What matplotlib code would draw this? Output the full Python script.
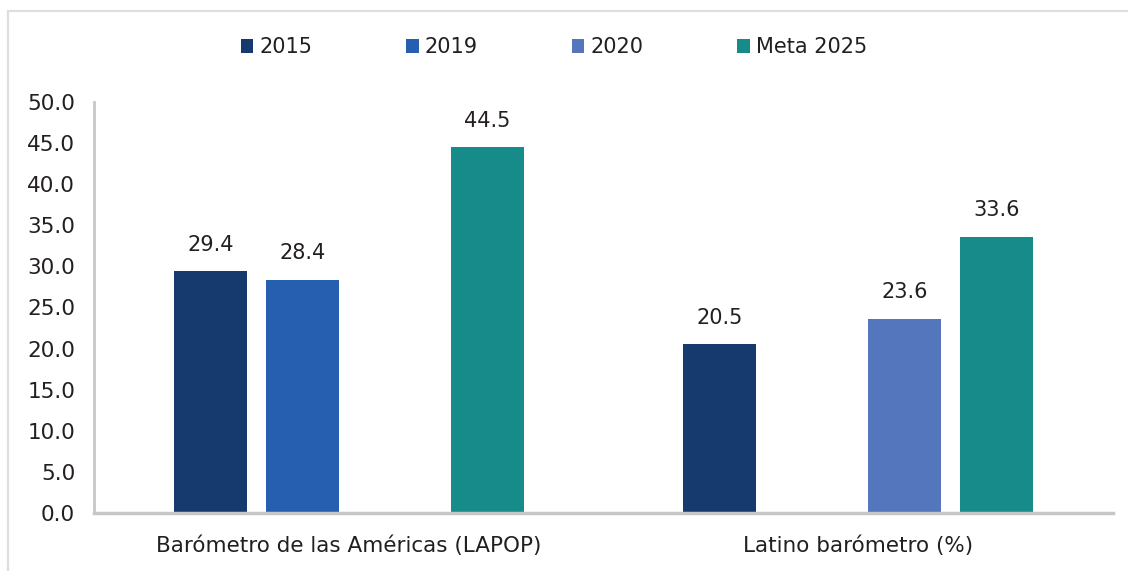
import matplotlib
matplotlib.use("Agg")
import matplotlib.pyplot as plt
from matplotlib.patches import Rectangle, Patch
import numpy as np

plt.rcParams['font.family'] = ['DejaVu Sans']

# Data
categories = ['Barómetro de las Américas (LAPOP)', 'Latino barómetro (%)']
series = ['2015', '2019', '2020', 'Meta 2025']
values = {
    '2015': [29.4, 20.5],
    '2019': [28.4, None],
    '2020': [None, 23.6],
    'Meta 2025': [44.5, 33.6],
}
colors = ['#163a6e', '#265fb0', '#5476bc', '#178a8a']
yticks = [0, 5, 10, 15, 20, 25, 30, 35, 40, 45, 50]

W, H = 1128, 571
fig = plt.figure(figsize=(W / 100, H / 100), dpi=100)
ax = fig.add_axes([94 / W, 1 - 513 / H, (1113 - 94) / W, (513 - 102) / H])

# light frame round the chart (right and bottom edges fall outside the picture)
fig.patches.append(Rectangle((8 / W, -0.1), 1.2, 1 - 11 / H + 0.1, transform=fig.transFigure,
                             fill=False, edgecolor='#dedede', linewidth=1.6))

x = np.arange(len(categories))
step = 0.181
width = 0.143
text_col = '#231f20'

for i, (name, col) in enumerate(zip(series, colors)):
    offs = (i - 1.5) * step
    for j, v in enumerate(values[name]):
        if v is None:
            continue
        ax.bar(x[j] + offs, v, width=width, color=col, zorder=2)
        ax.annotate(f'{v:.1f}', (x[j] + offs, v), xytext=(0, 12), textcoords='offset points',
                    ha='center', va='bottom', fontsize=15, color=text_col)

ax.set_xlim(-0.5, 1.5)
ax.set_ylim(0, 50)
ax.set_yticks(yticks)
ax.set_yticklabels([f'{t:.1f}' for t in yticks])
ax.set_xticks(x)
ax.set_xticklabels(categories)
ax.tick_params(axis='both', length=0, labelsize=15.5, labelcolor=text_col)
ax.tick_params(axis='y', pad=13.5)
ax.tick_params(axis='x', pad=16.5)

for s in ['top', 'right']:
    ax.spines[s].set_visible(False)
ax.spines['left'].set_color('#c8c8c8')
ax.spines['left'].set_linewidth(2)
ax.spines['bottom'].set_color('#c6c6c6')
ax.spines['bottom'].set_linewidth(2.5)

handles = [Patch(facecolor=c, edgecolor='none') for c in colors]
fig.legend(handles, series, loc='center', bbox_to_anchor=(554 / W, 1 - 47 / H), ncol=4,
           frameon=False, fontsize=15, handlelength=0.6, handleheight=0.65,
           handletextpad=0.3, columnspacing=4.5, labelcolor=text_col)

fig.savefig('out.png', dpi=100)
